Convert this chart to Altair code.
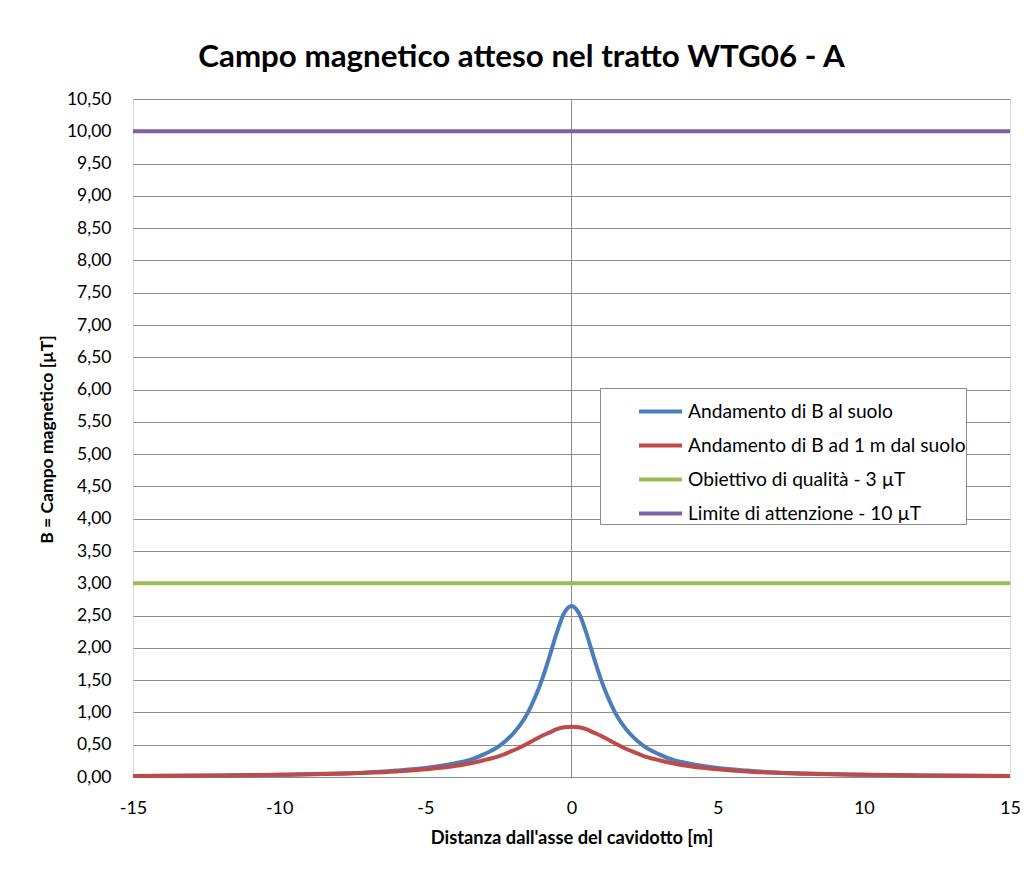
import altair as alt
import pandas as pd

# distances from cable axis [m]
x_vals = [-15, -12, -10, -8, -7, -6, -5, -4, -3.5, -3, -2.5, -2, -1.75, -1.5, -1.25, -1, -0.75, -0.5, -0.25,
          0, 0.25, 0.5, 0.75, 1, 1.25, 1.5, 1.75, 2, 2.5, 3, 3.5, 4, 5, 6, 7, 8, 10, 12, 15]
# B at ground level [uT]
b_suolo = [0.016, 0.025, 0.035, 0.055, 0.07, 0.10, 0.14, 0.21, 0.26, 0.35, 0.47, 0.67, 0.81, 0.99, 1.23, 1.52, 1.87, 2.24, 2.54,
           2.65, 2.54, 2.24, 1.87, 1.52, 1.23, 0.99, 0.81, 0.67, 0.47, 0.35, 0.26, 0.21, 0.14, 0.10, 0.07, 0.055, 0.035, 0.025, 0.016]
# B at 1 m above ground [uT]
b_1m = [0.015, 0.023, 0.033, 0.05, 0.064, 0.085, 0.12, 0.17, 0.21, 0.26, 0.32, 0.41, 0.46, 0.52, 0.58, 0.64, 0.69, 0.74, 0.77,
        0.78, 0.77, 0.74, 0.69, 0.64, 0.58, 0.52, 0.46, 0.41, 0.32, 0.26, 0.21, 0.17, 0.12, 0.085, 0.064, 0.05, 0.033, 0.023, 0.015]
# limits
lim_x = [-15, 15]
obiettivo = [3, 3]
attenzione = [10, 10]

series_names = ["Andamento di B al suolo", "Andamento di B ad 1 m dal suolo",
                "Obiettivo di qualità - 3 µT", "Limite di attenzione - 10 µT"]
series_colors = ["#4A7EBB", "#BE4B48", "#9BBB59", "#7F63A1"]

y_ticks = [0, 0.5, 1, 1.5, 2, 2.5, 3, 3.5, 4, 4.5, 5, 5.5, 6, 6.5, 7, 7.5, 8, 8.5, 9, 9.5, 10, 10.5]
x_ticks = [-15, -10, -5, 0, 5, 10, 15]

rows = []
for xv, yv in zip(lim_x, attenzione):
    rows.append({"x": xv, "y": yv, "serie": series_names[3], "o": 0})
for xv, yv in zip(lim_x, obiettivo):
    rows.append({"x": xv, "y": yv, "serie": series_names[2], "o": 1})
for xv, yv in zip(x_vals, b_suolo):
    rows.append({"x": xv, "y": yv, "serie": series_names[0], "o": 2})
for xv, yv in zip(x_vals, b_1m):
    rows.append({"x": xv, "y": yv, "serie": series_names[1], "o": 3})
df = pd.DataFrame(rows)

FONT = "Lato"
GRID = "#8C8C8C"

xscale = alt.Scale(domain=[-15, 15], nice=False, zero=False)
yscale = alt.Scale(domain=[0, 10.5], nice=False)

vline = alt.Chart(pd.DataFrame({"x": [0]})).mark_rule(color=GRID, strokeWidth=1).encode(
    x=alt.X("x:Q", scale=xscale)
)

lines = alt.Chart(df).mark_line(strokeWidth=4, interpolate="monotone").encode(
    x=alt.X("x:Q", scale=xscale,
            axis=alt.Axis(values=x_ticks, title="Distanza dall'asse del cavidotto [m]",
                          labelExpr="datum.value < 0 ? '-' + abs(datum.value) : '' + datum.value",
                          labelFlush=False, labelOverlap=False,
                          grid=False, domain=False, ticks=False,
                          labelFont=FONT, labelFontSize=18, labelColor="#000", labelPadding=22,
                          titleFont=FONT, titleFontSize=18.3, titleFontWeight="bold", titleColor="#000",
                          titleY=61, titleBaseline="middle")),
    y=alt.Y("y:Q", scale=yscale,
            axis=alt.Axis(values=y_ticks, title="B = Campo magnetico [µT]",
                          labelExpr="replace(format(datum.value, '.2f'), '.', ',')",
                          grid=True, gridColor=GRID, gridWidth=1, domain=False, ticks=False,
                          labelFont=FONT, labelFontSize=17.5, labelColor="#000", labelPadding=22,
                          titleFont=FONT, titleFontSize=17.5, titleFontWeight="bold", titleColor="#000",
                          titleX=-86, titleY=340, titleAlign="center", titleBaseline="middle")),
    color=alt.Color("serie:N", scale=alt.Scale(domain=series_names, range=series_colors),
                    legend=alt.Legend(title=None, orient="none", legendX=467, legendY=289,
                                      fillColor="#FFFFFF", strokeColor=GRID, padding=0,
                                      symbolType="stroke", symbolSize=1849, symbolStrokeWidth=4,
                                      symbolOffset=37, labelOffset=4, labelLimit=600,
                                      labelExpr="datum.label + '\u00a0\u00a0\u00a0\u00a0\u00a0\u00a0\u00a0\u00a0'",
                                      labelFont=FONT, labelFontSize=19.2, labelColor="#000",
                                      rowPadding=-0.5)),
    order=alt.Order("o:Q"),
    detail="serie:N",
)

chart = alt.layer(vline, lines).properties(
    width=877, height=678,
    autosize=alt.AutoSizeParams(type="none"),
    padding={"left": 125, "top": 91, "right": 16, "bottom": 84},
    title=alt.TitleParams("Campo magnetico atteso nel tratto WTG06 - A", font=FONT, fontSize=31.3,
                          fontWeight="bold", color="#000", anchor="middle", dx=-50, offset=17),
).configure_view(stroke=None).configure(background="#FFFFFF")

chart.save("out.html", embed_options={"renderer": "svg", "actions": False})
